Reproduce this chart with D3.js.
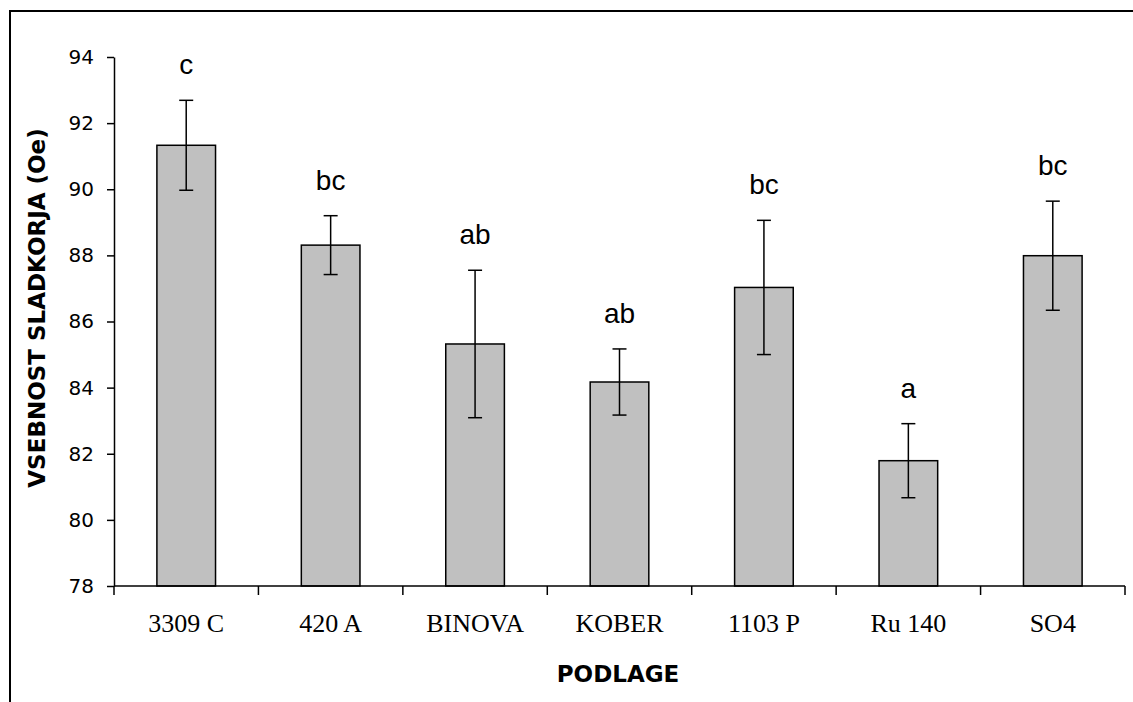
<!DOCTYPE html>
<html><head><meta charset="utf-8">
<script src="https://cdn.jsdelivr.net/npm/d3@7"></script>
<style>body{margin:0;background:#fff}svg{display:block}</style>
</head><body>
<svg id="chart" width="1133" height="702"></svg>
<script>
const categories = ["3309 C", "420 A", "BINOVA", "KOBER", "1103 P", "Ru 140", "SO4"];
const means = [91.33, 88.31, 85.32, 84.17, 87.03, 81.79, 87.99];
const errors = [1.36, 0.89, 2.23, 1.0, 2.03, 1.12, 1.65];
const letters = ["c", "bc", "ab", "ab", "bc", "a", "bc"];
const yTicks = [78, 80, 82, 84, 86, 88, 90, 92, 94];
const yTitle = "VSEBNOST SLADKORJA (Oe)";
const xTitle = "PODLAGE";

const svg = d3.select("#chart");
const L = 114, R = 1125, T = 57, B = 586;

// frame
svg.append("path").attr("d", `M10,702 V11 H1133`).attr("fill", "none").attr("stroke", "#000").attr("stroke-width", 2);

const x = d3.scaleBand().domain(categories).range([L, R]).paddingInner(0.594).paddingOuter(0.297);
const y = d3.scaleLinear().domain([78, 94]).range([B, T]);

// bars
const g = svg.append("g");
g.selectAll("rect").data(categories).join("rect")
  .attr("x", d => x(d)).attr("width", x.bandwidth())
  .attr("y", (d, i) => y(means[i])).attr("height", (d, i) => B - y(means[i]))
  .attr("fill", "#c0c0c0").attr("stroke", "#000").attr("stroke-width", 1.5);

// error bars
const cx = d => x(d) + x.bandwidth() / 2;
const eg = svg.append("g").attr("stroke", "#000").attr("stroke-width", 1.5);
categories.forEach((d, i) => {
  const c = cx(d), y1 = y(means[i] + errors[i]), y2 = y(means[i] - errors[i]);
  eg.append("line").attr("x1", c).attr("x2", c).attr("y1", y1).attr("y2", y2);
  eg.append("line").attr("x1", c - 7).attr("x2", c + 7).attr("y1", y1).attr("y2", y1);
  eg.append("line").attr("x1", c - 7).attr("x2", c + 7).attr("y1", y2).attr("y2", y2);
});

// letters
svg.append("g").selectAll("text").data(categories).join("text")
  .attr("x", d => cx(d)).attr("y", (d, i) => y(means[i] + errors[i]) - 26)
  .attr("text-anchor", "middle").attr("font-family", "Liberation Sans, Arial, sans-serif")
  .attr("font-size", 28).attr("fill", "#000").text((d, i) => letters[i]);

// y axis
const ya = svg.append("g").attr("transform", `translate(${L},0)`)
  .call(d3.axisLeft(y).tickValues(yTicks).tickSize(7).tickSizeOuter(0).tickPadding(13));
ya.selectAll("path,line").attr("stroke", "#000").attr("stroke-width", 1.5);
ya.selectAll("text").attr("font-family", "DejaVu Sans, sans-serif").attr("font-size", 20).attr("fill", "#000");

// x axis
const xa = svg.append("g").attr("transform", `translate(0,${B})`)
  .call(d3.axisBottom(x).tickSize(0).tickSizeOuter(0).tickPadding(28));
xa.select(".domain").remove();
xa.append("line").attr("x1", L).attr("x2", R).attr("stroke", "#000").attr("stroke-width", 1.5);
const edges = categories.map(d => x(d) - x.step() * x.paddingInner() / 2).concat([R]);
xa.selectAll("line.edge").data(edges).join("line").attr("class", "edge")
  .attr("x1", d => d).attr("x2", d => d).attr("y1", 0).attr("y2", 9)
  .attr("stroke", "#000").attr("stroke-width", 1.5);
xa.selectAll(".tick text").attr("font-family", "Liberation Serif, Times New Roman, serif").attr("font-size", 26).attr("fill", "#000");

// titles
svg.append("text").attr("transform", `translate(45,308) rotate(-90)`)
  .attr("text-anchor", "middle").attr("font-family", "DejaVu Sans, sans-serif")
  .attr("font-weight", "bold").attr("font-size", 23).text(yTitle);
svg.append("text").attr("x", 618).attr("y", 682)
  .attr("text-anchor", "middle").attr("font-family", "DejaVu Sans, sans-serif")
  .attr("font-weight", "bold").attr("font-size", 23).text(xTitle);
</script>
</body></html>
